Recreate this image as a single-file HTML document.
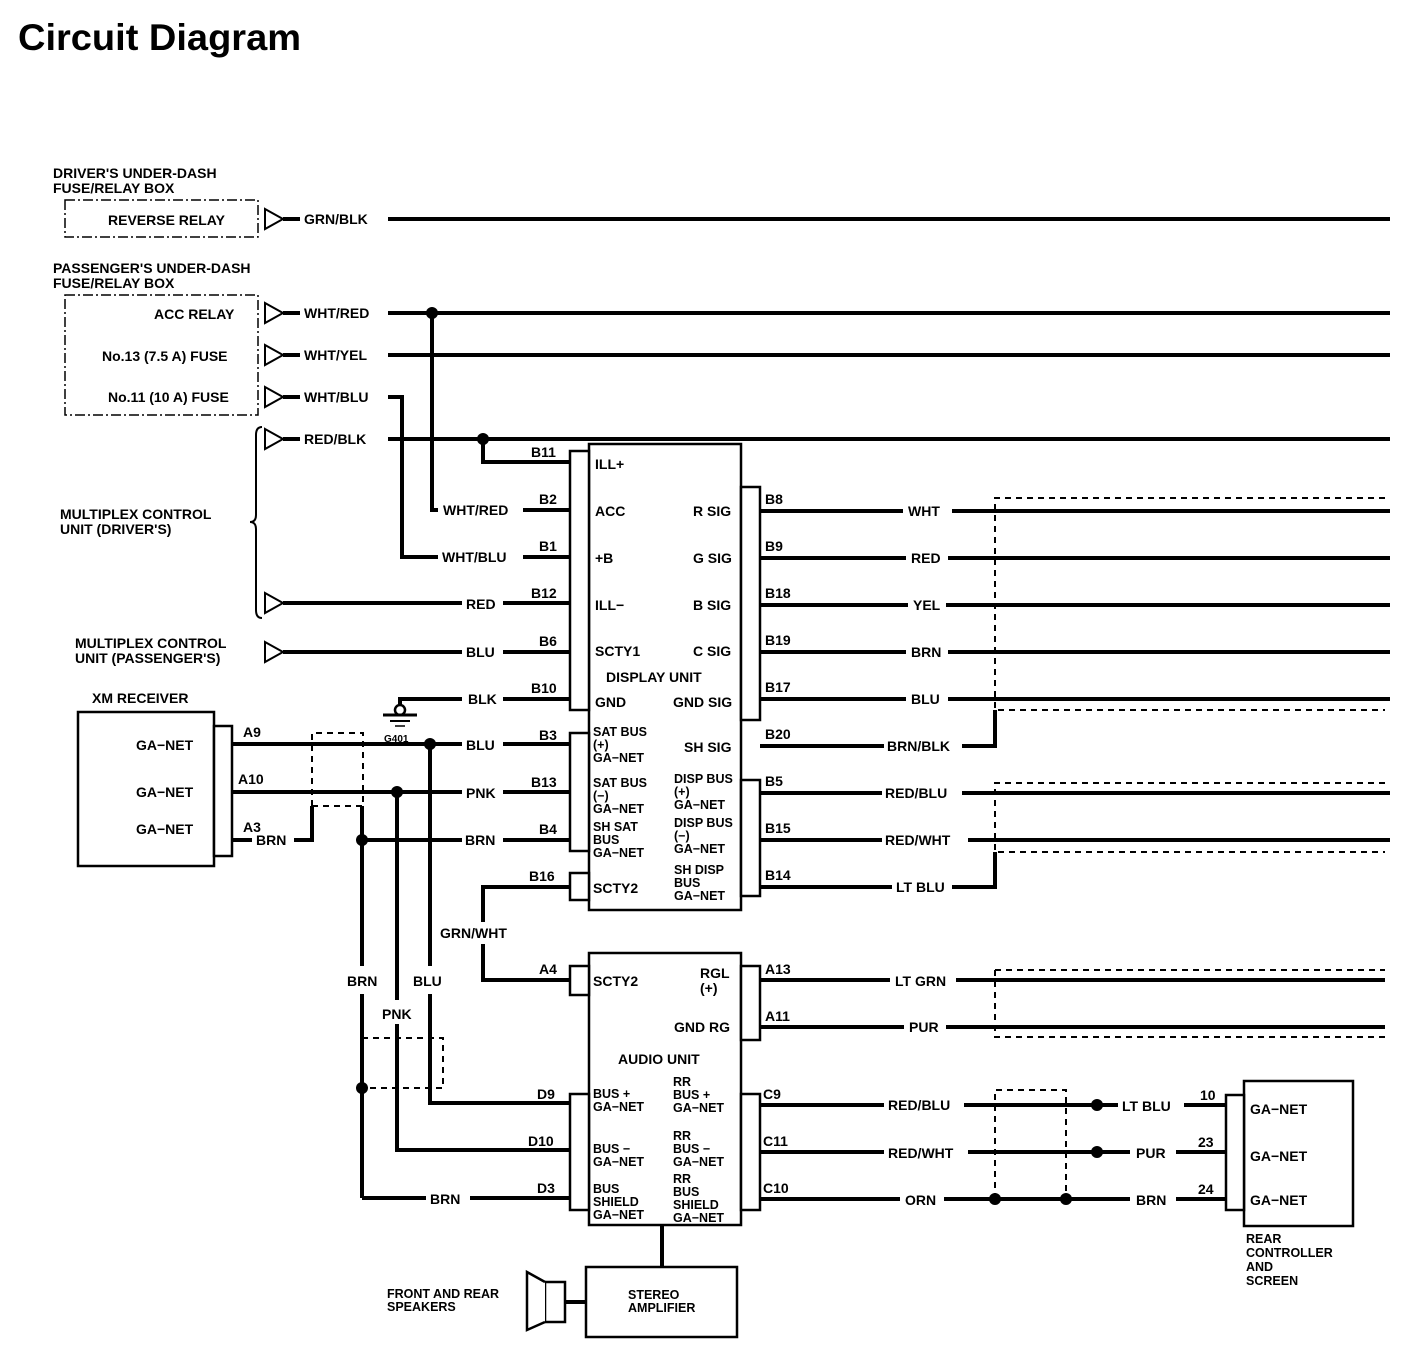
<!DOCTYPE html>
<html><head><meta charset="utf-8"><style>
html,body{margin:0;padding:0;background:#fff;}
svg{display:block;}
text{font-family:"Liberation Sans",sans-serif;font-weight:bold;fill:#000;}
.t{font-size:14px;}
.s{font-size:12.5px;}
.w{stroke:#000;stroke-width:4;fill:none;}
.b{stroke:#000;stroke-width:2.5;fill:#fff;}
.d{stroke:#000;stroke-width:2;fill:none;stroke-dasharray:6,5;}
.dd{stroke:#000;stroke-width:1.5;fill:none;stroke-dasharray:10,3,2,3;}
</style></head><body>
<svg width="1408" height="1368" viewBox="0 0 1408 1368" xmlns="http://www.w3.org/2000/svg">
<text x="18" y="50" style="font-size:37px" textLength="283" lengthAdjust="spacingAndGlyphs">Circuit Diagram</text>

<!-- fuse boxes -->
<text class="t" x="53" y="178">DRIVER'S UNDER-DASH</text>
<text class="t" x="53" y="193">FUSE/RELAY BOX</text>
<rect class="dd" x="65" y="200" width="193" height="37"/>
<text class="t" x="108" y="225">REVERSE RELAY</text>
<text class="t" x="53" y="273">PASSENGER'S UNDER-DASH</text>
<text class="t" x="53" y="288">FUSE/RELAY BOX</text>
<rect class="dd" x="65" y="295" width="193" height="120"/>
<text class="t" x="154" y="319">ACC RELAY</text>
<text class="t" x="102" y="361">No.13 (7.5 A) FUSE</text>
<text class="t" x="108" y="402">No.11 (10 A) FUSE</text>

<!-- triangles -->
<g stroke="#000" stroke-width="2" fill="#fff">
<path d="M265,209 L283,219 L265,229 Z"/>
<path d="M265,303 L283,313 L265,323 Z"/>
<path d="M265,345 L283,355 L265,365 Z"/>
<path d="M265,387 L283,397 L265,407 Z"/>
<path d="M265,429 L283,439 L265,449 Z"/>
<path d="M265,593 L283,603 L265,613 Z"/>
<path d="M265,642 L283,652 L265,662 Z"/>
</g>
<!-- brace -->
<path d="M262,427 Q256,427 256,435 L256,515 Q256,522 250,522 Q256,522 256,529 L256,610 Q256,618 262,618" stroke="#000" stroke-width="2" fill="none"/>

<g class="w">
<line x1="283" y1="219" x2="300" y2="219"/><line x1="388" y1="219" x2="1390" y2="219"/>
<line x1="283" y1="313" x2="300" y2="313"/><line x1="388" y1="313" x2="1390" y2="313"/>
<line x1="283" y1="355" x2="300" y2="355"/><line x1="388" y1="355" x2="1390" y2="355"/>
<line x1="283" y1="397" x2="300" y2="397"/><polyline points="388,397 402,397 402,557 438,557"/>
<line x1="283" y1="439" x2="300" y2="439"/><line x1="388" y1="439" x2="1390" y2="439"/>
<polyline points="432,313 432,510 438,510"/>
<polyline points="483,439 483,462 570,462"/>
<line x1="523" y1="510" x2="570" y2="510"/>
<line x1="523" y1="557" x2="570" y2="557"/>
<line x1="283" y1="603" x2="462" y2="603"/><line x1="503" y1="603" x2="570" y2="603"/>
<line x1="283" y1="652" x2="462" y2="652"/><line x1="503" y1="652" x2="570" y2="652"/>
<polyline points="400,707 400,699 462,699"/><line x1="503" y1="699" x2="570" y2="699"/>
</g>
<g fill="#000"><circle cx="432" cy="313" r="6"/><circle cx="483" cy="439" r="6"/></g>
<text class="t" x="304" y="224">GRN/BLK</text>
<text class="t" x="304" y="318">WHT/RED</text>
<text class="t" x="304" y="360">WHT/YEL</text>
<text class="t" x="304" y="402">WHT/BLU</text>
<text class="t" x="304" y="444">RED/BLK</text>
<text class="t" x="443" y="515">WHT/RED</text>
<text class="t" x="442" y="562">WHT/BLU</text>
<text class="t" x="466" y="609">RED</text>
<text class="t" x="466" y="657">BLU</text>
<text class="t" x="468" y="704">BLK</text>
<text class="t" x="60" y="519">MULTIPLEX CONTROL</text>
<text class="t" x="60" y="534">UNIT (DRIVER'S)</text>
<text class="t" x="75" y="648">MULTIPLEX CONTROL</text>
<text class="t" x="75" y="663">UNIT (PASSENGER'S)</text>
<!-- ground -->
<circle cx="400" cy="710" r="5" fill="#fff" stroke="#000" stroke-width="2.5"/>
<line x1="383" y1="715" x2="417" y2="715" stroke="#000" stroke-width="3"/>
<line x1="390" y1="721" x2="410" y2="721" stroke="#000" stroke-width="2"/>
<line x1="395" y1="726" x2="405" y2="726" stroke="#000" stroke-width="1.5"/>
<text x="384" y="742" style="font-size:10px">G401</text>

<!-- pin labels left of display -->
<text class="t" x="531" y="457">B11</text>
<text class="t" x="539" y="504">B2</text>
<text class="t" x="539" y="551">B1</text>
<text class="t" x="531" y="598">B12</text>
<text class="t" x="539" y="646">B6</text>
<text class="t" x="531" y="693">B10</text>
<text class="t" x="539" y="740">B3</text>
<text class="t" x="531" y="787">B13</text>
<text class="t" x="539" y="834">B4</text>
<text class="t" x="529" y="881">B16</text>
<text class="t" x="539" y="974">A4</text>
<text class="t" x="537" y="1099">D9</text>
<text class="t" x="528" y="1146">D10</text>
<text class="t" x="537" y="1193">D3</text>

<!-- display unit -->
<rect class="b" x="589" y="444" width="152" height="466"/>
<rect class="b" x="570" y="451" width="19" height="259"/>
<rect class="b" x="570" y="733" width="19" height="118"/>
<rect class="b" x="570" y="873" width="19" height="27"/>
<rect class="b" x="741" y="487" width="19" height="233"/>
<rect class="b" x="741" y="780" width="19" height="116"/>
<text class="t" x="595" y="469">ILL+</text>
<text class="t" x="595" y="516">ACC</text>
<text class="t" x="595" y="563">+B</text>
<text class="t" x="595" y="610">ILL−</text>
<text class="t" x="595" y="656">SCTY1</text>
<text class="t" x="606" y="682">DISPLAY UNIT</text>
<text class="t" x="595" y="707">GND</text>
<text class="t" x="693" y="516">R SIG</text>
<text class="t" x="693" y="563">G SIG</text>
<text class="t" x="693" y="610">B SIG</text>
<text class="t" x="693" y="656">C SIG</text>
<text class="t" x="673" y="707">GND SIG</text>
<text class="t" x="684" y="752">SH SIG</text>
<g>
<text class="s" x="593" y="736">SAT BUS</text><text class="s" x="593" y="749">(+)</text><text class="s" x="593" y="762">GA−NET</text>
<text class="s" x="593" y="787">SAT BUS</text><text class="s" x="593" y="800">(−)</text><text class="s" x="593" y="813">GA−NET</text>
<text class="s" x="593" y="831">SH SAT</text><text class="s" x="593" y="844">BUS</text><text class="s" x="593" y="857">GA−NET</text>
<text class="s" x="674" y="783">DISP BUS</text><text class="s" x="674" y="796">(+)</text><text class="s" x="674" y="809">GA−NET</text>
<text class="s" x="674" y="827">DISP BUS</text><text class="s" x="674" y="840">(−)</text><text class="s" x="674" y="853">GA−NET</text>
<text class="s" x="674" y="874">SH DISP</text><text class="s" x="674" y="887">BUS</text><text class="s" x="674" y="900">GA−NET</text>
</g>
<text class="t" x="593" y="893">SCTY2</text>

<!-- right side display wires -->
<text class="t" x="765" y="504">B8</text><text class="t" x="765" y="551">B9</text>
<text class="t" x="765" y="598">B18</text><text class="t" x="765" y="645">B19</text>
<text class="t" x="765" y="692">B17</text><text class="t" x="765" y="739">B20</text>
<text class="t" x="765" y="786">B5</text><text class="t" x="765" y="833">B15</text>
<text class="t" x="765" y="880">B14</text>
<g class="w">
<line x1="760" y1="511" x2="903" y2="511"/><line x1="952" y1="511" x2="1390" y2="511"/>
<line x1="760" y1="558" x2="906" y2="558"/><line x1="948" y1="558" x2="1390" y2="558"/>
<line x1="760" y1="605" x2="908" y2="605"/><line x1="946" y1="605" x2="1390" y2="605"/>
<line x1="760" y1="652" x2="906" y2="652"/><line x1="948" y1="652" x2="1390" y2="652"/>
<line x1="760" y1="699" x2="906" y2="699"/><line x1="948" y1="699" x2="1390" y2="699"/>
<line x1="760" y1="746" x2="884" y2="746"/><polyline points="962,746 995,746 995,710"/>
<line x1="760" y1="793" x2="882" y2="793"/><line x1="962" y1="793" x2="1390" y2="793"/>
<line x1="760" y1="840" x2="882" y2="840"/><line x1="968" y1="840" x2="1390" y2="840"/>
<line x1="760" y1="887" x2="892" y2="887"/><polyline points="952,887 995,887 995,852"/>
</g>
<text class="t" x="908" y="516">WHT</text>
<text class="t" x="911" y="563">RED</text>
<text class="t" x="913" y="610">YEL</text>
<text class="t" x="911" y="657">BRN</text>
<text class="t" x="911" y="704">BLU</text>
<text class="t" x="887" y="751">BRN/BLK</text>
<text class="t" x="885" y="798">RED/BLU</text>
<text class="t" x="885" y="845">RED/WHT</text>
<text class="t" x="896" y="892">LT BLU</text>
<path class="d" d="M1385,498 L995,498 L995,710 L1385,710"/>
<path class="d" d="M1385,783 L995,783 L995,852 L1385,852"/>

<!-- XM receiver -->
<text class="t" x="92" y="703">XM RECEIVER</text>
<rect class="b" x="78" y="712" width="136" height="154"/>
<rect class="b" x="214" y="726" width="18" height="130"/>
<text class="t" x="136" y="750">GA−NET</text>
<text class="t" x="136" y="797">GA−NET</text>
<text class="t" x="136" y="834">GA−NET</text>
<text class="t" x="243" y="737">A9</text>
<text class="t" x="238" y="784">A10</text>
<text class="t" x="243" y="832">A3</text>
<text class="t" x="256" y="845">BRN</text>
<g class="w">
<line x1="232" y1="744" x2="462" y2="744"/><line x1="503" y1="744" x2="570" y2="744"/>
<line x1="232" y1="792" x2="462" y2="792"/><line x1="503" y1="792" x2="570" y2="792"/>
<line x1="232" y1="840" x2="252" y2="840"/><polyline points="294,840 312,840 312,806"/>
<line x1="362" y1="840" x2="462" y2="840"/><line x1="503" y1="840" x2="570" y2="840"/>
<line x1="362" y1="806" x2="362" y2="966"/><line x1="362" y1="994" x2="362" y2="1198"/>
<line x1="362" y1="1198" x2="426" y2="1198"/><line x1="470" y1="1198" x2="570" y2="1198"/>
<line x1="397" y1="792" x2="397" y2="1000"/><polyline points="397,1024 397,1150 570,1150"/>
<line x1="430" y1="744" x2="430" y2="966"/><polyline points="430,994 430,1103 570,1103"/>
<polyline points="570,887 483,887 483,922"/><polyline points="483,944 483,980 570,980"/>
</g>
<g fill="#000"><circle cx="430" cy="744" r="6"/><circle cx="397" cy="792" r="6"/><circle cx="362" cy="840" r="6"/><circle cx="362" cy="1088" r="6"/></g>
<path class="d" d="M312,806 L312,733 L363,733 L363,806 Z"/>
<path class="d" d="M362,1038 L443,1038 L443,1088 L362,1088"/>
<text class="t" x="466" y="750">BLU</text>
<text class="t" x="466" y="798">PNK</text>
<text class="t" x="465" y="845">BRN</text>
<text class="t" x="347" y="986">BRN</text>
<text class="t" x="382" y="1019">PNK</text>
<text class="t" x="413" y="986">BLU</text>
<text class="t" x="440" y="938">GRN/WHT</text>
<text class="t" x="430" y="1204">BRN</text>

<!-- audio unit -->
<rect class="b" x="589" y="953" width="152" height="272"/>
<rect class="b" x="570" y="966" width="19" height="29"/>
<rect class="b" x="570" y="1094" width="19" height="116"/>
<rect class="b" x="741" y="966" width="19" height="74"/>
<rect class="b" x="741" y="1094" width="19" height="116"/>
<text class="t" x="593" y="986">SCTY2</text>
<text class="t" x="700" y="978">RGL</text>
<text class="t" x="700" y="993">(+)</text>
<text class="t" x="674" y="1032">GND RG</text>
<text class="t" x="618" y="1064">AUDIO UNIT</text>
<g>
<text class="s" x="593" y="1098">BUS +</text><text class="s" x="593" y="1111">GA−NET</text>
<text class="s" x="593" y="1153">BUS −</text><text class="s" x="593" y="1166">GA−NET</text>
<text class="s" x="593" y="1193">BUS</text><text class="s" x="593" y="1206">SHIELD</text><text class="s" x="593" y="1219">GA−NET</text>
<text class="s" x="673" y="1086">RR</text><text class="s" x="673" y="1099">BUS +</text><text class="s" x="673" y="1112">GA−NET</text>
<text class="s" x="673" y="1140">RR</text><text class="s" x="673" y="1153">BUS −</text><text class="s" x="673" y="1166">GA−NET</text>
<text class="s" x="673" y="1183">RR</text><text class="s" x="673" y="1196">BUS</text><text class="s" x="673" y="1209">SHIELD</text><text class="s" x="673" y="1222">GA−NET</text>
</g>
<text class="t" x="765" y="974">A13</text>
<text class="t" x="765" y="1021">A11</text>
<text class="t" x="763" y="1099">C9</text>
<text class="t" x="763" y="1146">C11</text>
<text class="t" x="763" y="1193">C10</text>
<g class="w">
<line x1="760" y1="980" x2="890" y2="980"/><line x1="956" y1="980" x2="1385" y2="980"/>
<line x1="760" y1="1027" x2="904" y2="1027"/><line x1="946" y1="1027" x2="1385" y2="1027"/>
<line x1="760" y1="1105" x2="884" y2="1105"/><line x1="964" y1="1105" x2="1118" y2="1105"/><line x1="1184" y1="1105" x2="1226" y2="1105"/>
<line x1="760" y1="1152" x2="884" y2="1152"/><line x1="968" y1="1152" x2="1130" y2="1152"/><line x1="1176" y1="1152" x2="1226" y2="1152"/>
<line x1="760" y1="1199" x2="900" y2="1199"/><line x1="944" y1="1199" x2="1130" y2="1199"/><line x1="1176" y1="1199" x2="1226" y2="1199"/>
<line x1="662" y1="1225" x2="662" y2="1267"/>
<line x1="565" y1="1302" x2="586" y2="1302"/>
</g>
<text class="t" x="895" y="986">LT GRN</text>
<text class="t" x="909" y="1032">PUR</text>
<path class="d" d="M995,970 L1385,970"/><path class="d" d="M995,970 L995,1037 L1385,1037"/>
<path class="d" d="M995,1199 L995,1090 L1066,1090 L1066,1199 L995,1199"/>
<g fill="#000"><circle cx="1097" cy="1105" r="6"/><circle cx="1097" cy="1152" r="6"/><circle cx="995" cy="1199" r="6"/><circle cx="1066" cy="1199" r="6"/></g>
<text class="t" x="888" y="1110">RED/BLU</text>
<text class="t" x="888" y="1158">RED/WHT</text>
<text class="t" x="905" y="1205">ORN</text>
<text class="t" x="1122" y="1111">LT BLU</text>
<text class="t" x="1136" y="1158">PUR</text>
<text class="t" x="1136" y="1205">BRN</text>
<text class="t" x="1200" y="1100">10</text>
<text class="t" x="1198" y="1147">23</text>
<text class="t" x="1198" y="1194">24</text>
<rect class="b" x="1244" y="1081" width="109" height="145"/>
<rect class="b" x="1226" y="1095" width="18" height="115"/>
<text class="t" x="1250" y="1114">GA−NET</text>
<text class="t" x="1250" y="1161">GA−NET</text>
<text class="t" x="1250" y="1205">GA−NET</text>
<text class="s" x="1246" y="1243">REAR</text>
<text class="s" x="1246" y="1257">CONTROLLER</text>
<text class="s" x="1246" y="1271">AND</text>
<text class="s" x="1246" y="1285">SCREEN</text>

<!-- amplifier & speaker -->
<rect class="b" x="586" y="1267" width="151" height="70"/>
<text class="s" x="628" y="1299">STEREO</text>
<text class="s" x="628" y="1312">AMPLIFIER</text>
<rect class="b" x="545" y="1282" width="20" height="40"/>
<path d="M545,1282 L527,1272 L527,1330 L545,1322" stroke="#000" stroke-width="2.5" fill="#fff"/>
<text class="s" x="387" y="1298">FRONT AND REAR</text>
<text class="s" x="387" y="1311">SPEAKERS</text>
</svg>
</body></html>
